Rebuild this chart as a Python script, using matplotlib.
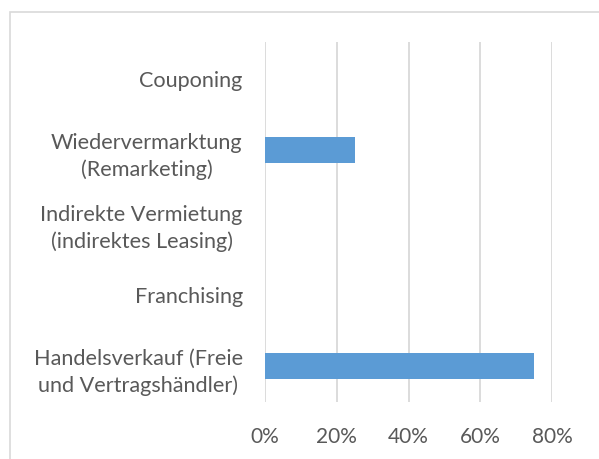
import matplotlib.pyplot as plt
from matplotlib.patches import Rectangle

# Data (bottom to top)
categories = [
    "Handelsverkauf (Freie\nund Vertragshändler)",
    "Franchising",
    "Indirekte Vermietung\n(indirektes Leasing)",
    "Wiedervermarktung\n(Remarketing)",
    "Couponing",
]
shares = [75, 0, 0, 25, 0]
xticks = [0, 20, 40, 60, 80]

plt.rcParams['font.family'] = ['Lato', 'DejaVu Sans']

fig = plt.figure(figsize=(5.99, 4.60), dpi=100)
W, H = 599, 460
ax = fig.add_axes([265 / W, 1 - 403 / H, (552 - 265) / W, (403 - 43) / H])

ax.barh(range(len(categories)), shares, height=0.36, color='#5B9BD5', zorder=3)
ax.set_xlim(0, 80)
ax.set_ylim(-0.5, len(categories) - 0.5)
ax.set_xticks(xticks)
ax.set_xticklabels([f"{t}%" for t in xticks])
ax.set_yticks(range(len(categories)))
ax.set_yticklabels(categories, multialignment='center', linespacing=1.4)
ax.tick_params(axis='y', length=0, pad=16, labelsize=15.6, labelcolor='#595959')
ax.tick_params(axis='x', length=0, pad=17, labelsize=15, labelcolor='#595959')
ax.grid(axis='x', color='#D9D9D9', linewidth=1.3, zorder=0)
for s in ax.spines.values():
    s.set_visible(False)

# chart frame
fig.patches.append(Rectangle((10 / W, -0.1), 1.2, 1 - 13 / H + 0.1, transform=fig.transFigure,
                             fill=False, edgecolor='#D9D9D9', linewidth=1.2))

fig.savefig('out.png', dpi=100)
